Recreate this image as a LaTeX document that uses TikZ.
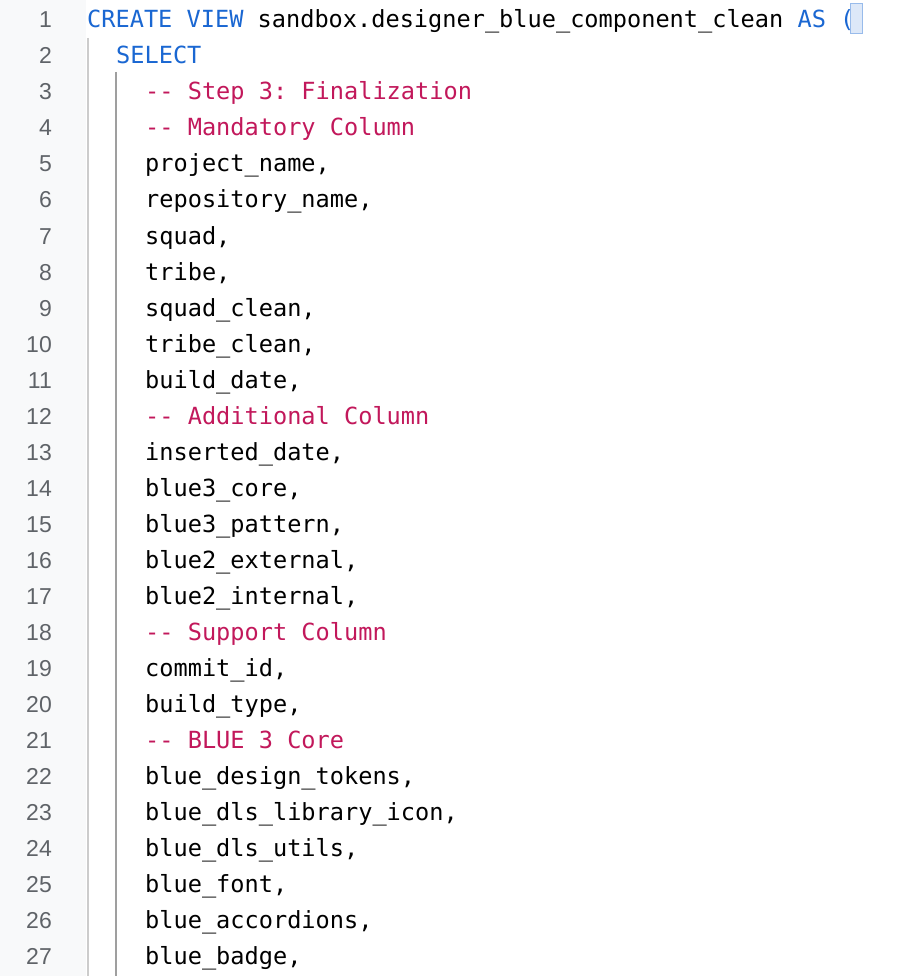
\documentclass[tikz,border=0pt]{standalone}
\usepackage{fontspec}
\setmonofont{DejaVu Sans Mono}
\newfontfamily\numfont{Liberation Sans}
\definecolor{kw}{HTML}{1A67D2}
\definecolor{cm}{HTML}{C2185B}
\definecolor{ln}{HTML}{5F6368}
\definecolor{gut}{HTML}{F8F9FA}
\begin{document}
\begin{tikzpicture}[x=1pt,y=-1pt,
  code/.style={anchor=base west,inner sep=0pt,font=\ttfamily\fontsize{23.6}{28}\selectfont},
  num/.style={anchor=base east,inner sep=0pt,text=ln,font=\numfont\fontsize{23}{28}\selectfont}]
\useasboundingbox (0,0) rectangle (898,976);
\fill[white] (0,0) rectangle (898,976);
\fill[gut] (0,0) rectangle (86,976);
\draw[gray!40,line width=2pt] (88,38) -- (88,976);
\draw[gray!75,line width=2pt] (116,72) -- (116,976);
\fill[kw!15] (850,4) rectangle (862,34);
\draw[kw!45,line width=1pt] (850,4) rectangle (862,34);
\foreach \i in {1,...,27} { \node[num] (n\i) at (52,{28+36*(\i-1)}) {\i}; }
\node[code] (l1) at (87,28) {\textcolor{kw}{CREATE VIEW} sandbox.designer\_blue\_component\_clean \textcolor{kw}{AS (}};
\node[code,text=kw] (l2) at (116,64) {SELECT};
\foreach \i/\t/\c in {3/{-- Step 3: Finalization}/cm,4/{-- Mandatory Column}/cm,5/{project\_name,}/black,6/{repository\_name,}/black,7/{squad,}/black,8/{tribe,}/black,9/{squad\_clean,}/black,10/{tribe\_clean,}/black,11/{build\_date,}/black,12/{-- Additional Column}/cm,13/{inserted\_date,}/black,14/{blue3\_core,}/black,15/{blue3\_pattern,}/black,16/{blue2\_external,}/black,17/{blue2\_internal,}/black,18/{-- Support Column}/cm,19/{commit\_id,}/black,20/{build\_type,}/black,21/{-- BLUE 3 Core}/cm,22/{blue\_design\_tokens,}/black,23/{blue\_dls\_library\_icon,}/black,24/{blue\_dls\_utils,}/black,25/{blue\_font,}/black,26/{blue\_accordions,}/black,27/{blue\_badge,}/black}
  { \node[code,text=\c] (l\i) at (145,{28+36*(\i-1)}) {\t}; }
\end{tikzpicture}
\end{document}
